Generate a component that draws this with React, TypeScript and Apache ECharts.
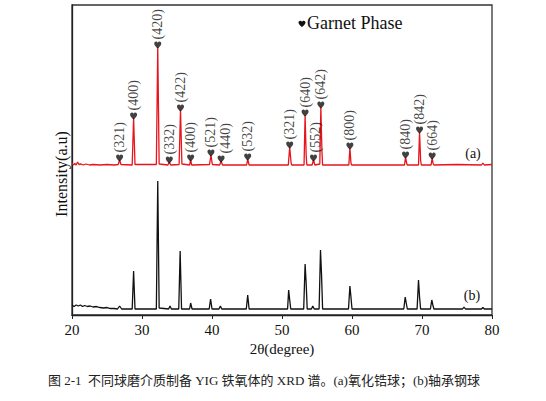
import { useEffect, useRef } from 'react'
import * as echarts from 'echarts'

const SERIF = '"Liberation Serif", "Times New Roman", serif'
const CAPTION_FONT = '"Liberation Serif", "Noto Sans CJK SC", serif'

const HEART_D =
  'M50 94 C47 91 0 60 0 29 C0 12 12 2 26 2 C38 2 46 10 50 19 C54 10 62 2 74 2 C88 2 100 12 100 29 C100 60 53 91 50 94 Z'
const HEART = 'path://' + HEART_D

echarts.graphic.registerShape('heart', echarts.graphic.extendPath(HEART_D, {}) as any)

// 2θ range and ticks
const xMin = 20
const xMax = 80
const xStep = 10

// (a) zirconia balls, raised baseline
const traceA: [number, number][] = [
  [20, 152], [20.2, 150], [20.4, 151.5], [20.6, 150], [20.8, 153], [21, 150.5],
  [21.3, 151], [21.6, 150], [22, 151], [22.5, 150], [23, 150.5], [24, 150],
  [25, 150.5], [26, 150], [26.6, 150.5], [26.8, 155], [27.0, 150.5], [28.6, 150],
  [28.8, 197], [29.0, 150.5], [32.05, 150.5], [32.25, 268], [32.45, 151], [33.7, 150],
  [33.9, 153], [34.1, 150], [35.3, 150.5], [35.5, 205], [35.7, 151], [36.8, 150],
  [36.95, 155], [37.1, 150], [39.65, 150.5], [39.85, 160], [40.05, 150.5], [41.1, 150],
  [41.3, 154], [41.5, 150], [44.95, 150], [45.1, 156], [45.3, 150], [50.9, 150],
  [51.1, 168], [51.3, 152], [51.4, 150], [53.15, 150], [53.3, 200], [53.45, 160],
  [53.55, 150], [54.3, 150], [54.5, 155], [54.7, 150], [55.4, 151], [55.55, 208],
  [55.7, 165], [55.8, 150], [59.55, 150], [59.7, 167], [59.85, 152], [59.95, 150],
  [67.5, 150], [67.65, 158], [67.8, 152], [67.9, 150], [69.5, 150], [69.65, 183],
  [69.8, 155], [69.9, 150], [71.3, 150], [71.45, 157], [71.6, 151], [71.7, 150],
  [75, 150.5], [78.5, 150], [78.7, 152], [78.9, 150], [80, 150.5],
]

// (b) bearing steel balls
const traceB: [number, number][] = [
  [20, 10], [20.3, 8.5], [20.6, 10], [20.9, 9], [21.2, 10], [21.5, 8.5], [21.8, 9.5],
  [22.2, 8.5], [22.6, 9], [23, 8], [23.5, 8.5], [24, 7.5], [24.5, 7], [25, 7.5],
  [25.5, 6.5], [26, 6.5], [26.5, 6], [26.8, 9], [27.1, 6], [28.6, 6], [28.8, 44],
  [29.0, 6], [32.05, 6], [32.25, 134], [32.45, 7], [33.8, 6], [34.0, 9], [34.2, 6],
  [35.25, 6], [35.45, 64], [35.65, 6], [36.8, 6], [36.95, 12], [37.15, 6], [39.6, 6],
  [39.8, 16], [40.0, 6], [41.0, 6], [41.2, 9], [41.4, 6], [44.9, 6], [45.1, 20],
  [45.3, 6], [50.8, 6], [50.95, 25], [51.1, 15], [51.25, 6], [53.1, 6], [53.3, 51],
  [53.45, 32], [53.6, 6], [54.2, 6], [54.4, 9], [54.6, 6], [55.3, 6], [55.5, 65],
  [55.65, 40], [55.8, 6], [59.5, 6], [59.7, 29], [59.85, 18], [60.0, 6], [67.4, 6],
  [67.6, 18], [67.75, 12], [67.9, 6], [69.3, 6], [69.5, 35], [69.65, 18], [69.8, 6],
  [71.2, 6], [71.4, 15], [71.55, 10], [71.7, 6], [75.8, 6], [76.0, 8], [76.2, 6],
  [78.5, 6], [78.7, 7.5], [78.9, 6], [80, 6],
]

// garnet reflections marked on (a)
const peakPositions = [26.8, 28.8, 32.25, 33.9, 35.5, 36.95, 39.85, 41.3, 45.1, 51.1, 53.3, 54.5, 55.55, 59.7, 67.65, 69.65, 71.45]
const peakHeights = [155, 197, 268, 153, 205, 155, 160, 154, 156, 168, 200, 155, 208, 167, 158, 183, 157]
const peakLabels = ['(321)', '(400)', '(420)', '(332)', '(422)', '(400)', '(521)', '(440)', '(532)', '(321)', '(640)', '(552)', '(642)', '(800)', '(840)', '(842)', '(664)']

export default function App() {
  const chartRef = useRef<HTMLDivElement>(null)

  useEffect(() => {
    if (!chartRef.current) return
    const chart = echarts.init(chartRef.current, undefined, { renderer: 'svg' })

    // labels squeezed next to a neighbour get a small sideways push
    const nudge: Record<number, number[]> = { 7: [0, 4], 11: [0, 2] }

    const marks = peakPositions.map((x, i) => ({
      name: peakLabels[i],
      value: [x, peakHeights[i]],
      label: nudge[i] ? { offset: nudge[i] } : undefined,
    }))

    const option: echarts.EChartsOption = {
      animation: false,
      backgroundColor: '#fff',
      grid: {
        left: 72,
        top: 5,
        width: 420,
        height: 310,
        show: true,
        borderColor: '#333',
        borderWidth: 1.3,
      },
      xAxis: {
        type: 'value',
        min: xMin,
        max: xMax,
        interval: xStep,
        name: '2θ(degree)',
        nameLocation: 'middle',
        nameGap: 22,
        nameTextStyle: { fontFamily: SERIF, fontSize: 15, color: '#111' },
        axisLine: { lineStyle: { color: '#222', width: 1.3 } },
        axisTick: { show: true, inside: false, length: 4, lineStyle: { color: '#222' } },
        axisLabel: { fontFamily: SERIF, fontSize: 15, color: '#111', margin: 7 },
        splitLine: { show: false },
      },
      yAxis: {
        type: 'value',
        min: 0,
        max: 310,
        axisLine: { show: true, lineStyle: { color: '#222', width: 1.3 } },
        axisTick: { show: false },
        axisLabel: { show: false },
        splitLine: { show: false },
      },
      graphic: [
        {
          type: 'heart',
          x: 298.5,
          y: 20.5,
          scaleX: 0.07,
          scaleY: 0.07,
          style: { fill: '#111' },
        } as any,
        {
          type: 'text',
          x: 307,
          y: 23,
          style: { text: 'Garnet Phase', fontFamily: SERIF, fontSize: 18, fill: '#111', align: 'left', verticalAlign: 'middle' },
        },
        {
          type: 'text',
          x: 61,
          y: 174,
          rotation: Math.PI / 2,
          style: {
            text: 'Intensity(a.u)',
            fontFamily: SERIF,
            fontSize: 16,
            fill: '#111',
            align: 'center',
            verticalAlign: 'middle',
          },
        },
        {
          type: 'text',
          x: 473,
          y: 153,
          style: { text: '(a)', fontFamily: SERIF, fontSize: 14, fill: '#111', align: 'center', verticalAlign: 'middle' },
        },
        {
          type: 'text',
          x: 472,
          y: 295,
          style: { text: '(b)', fontFamily: SERIF, fontSize: 14, fill: '#111', align: 'center', verticalAlign: 'middle' },
        },
        {
          type: 'text',
          x: 264,
          y: 380,
          style: {
            text: '图 2-1  不同球磨介质制备 YIG 铁氧体的 XRD 谱。(a)氧化锆球；(b)轴承钢球',
            fontFamily: CAPTION_FONT,
            fontSize: 13,
            fill: '#222',
            align: 'center',
            verticalAlign: 'middle',
          },
        },
      ],
      series: [
        {
          name: '(a)',
          type: 'line',
          data: traceA,
          showSymbol: false,
          lineStyle: { color: '#e8141c', width: 1.3 },
          z: 2,
        },
        {
          name: '(b)',
          type: 'line',
          data: traceB,
          showSymbol: false,
          lineStyle: { color: '#111', width: 1.3 },
          z: 2,
        },
        {
          name: 'Garnet Phase',
          type: 'scatter',
          data: marks,
          symbol: HEART,
          symbolSize: [7, 7],
          symbolOffset: [0, -2],
          itemStyle: { color: '#111' },
          label: {
            show: true,
            position: 'top',
            rotate: 90,
            align: 'left',
            verticalAlign: 'middle',
            distance: 2,
            formatter: (p: any) => p.name,
            fontFamily: SERIF,
            fontSize: 14,
            color: '#111',
          },
          z: 3,
        },
      ],
    }

    chart.setOption(option)
    return () => {
      chart.dispose()
    }
  }, [])

  return (
    <div
      ref={chartRef}
      style={{ position: 'fixed', left: 0, top: 0, width: 546, height: 401 }}
    />
  )
}
